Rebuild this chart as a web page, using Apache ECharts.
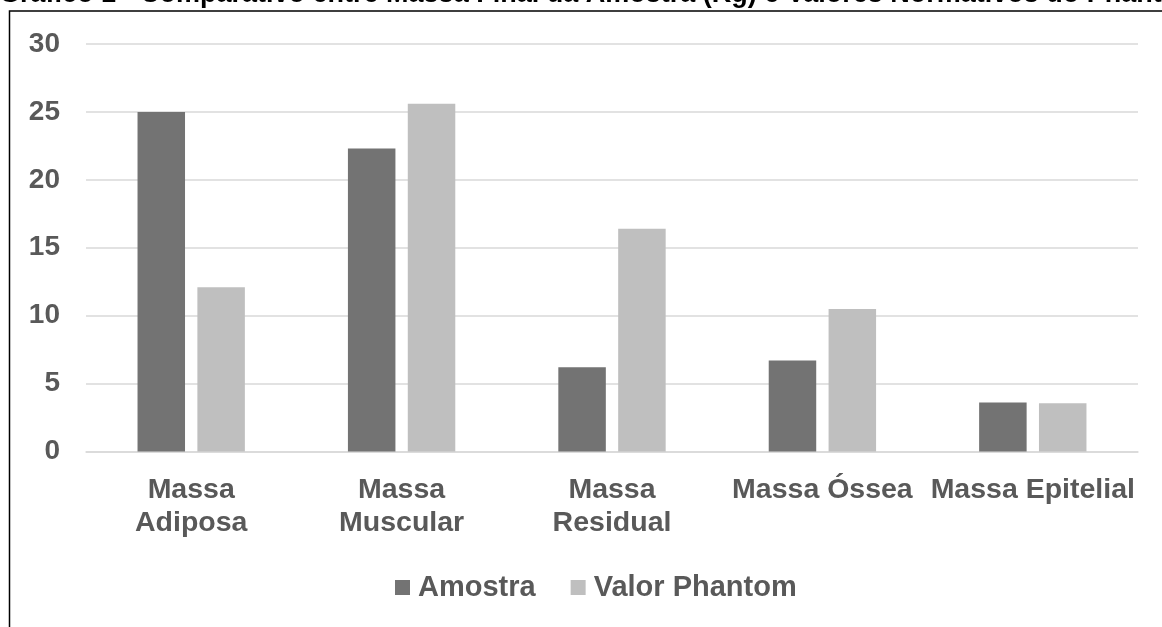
<!DOCTYPE html>
<html>
<head>
<meta charset="utf-8">
<script src="https://cdn.jsdelivr.net/npm/echarts@6/dist/echarts.min.js"></script>
<style>
  html, body { margin: 0; padding: 0; background: #fff; }
  #chart { width: 1162px; height: 627px; }
</style>
</head>
<body>
<div id="chart"></div>
<script>
// Final sample mass (kg) per tissue vs. the phantom's normative values
const titleText = 'Gráfico 1 - Comparativo entre Massa Final da Amostra (Kg) e Valores Normativos do Phantom';
const categories = ['Massa\nAdiposa', 'Massa\nMuscular', 'Massa\nResidual', 'Massa Óssea', 'Massa Epitelial'];
const seriesNames = ['Amostra', 'Valor Phantom'];
const amostra = [25.0, 22.3, 6.2, 6.7, 3.6];
const valorPhantom = [12.1, 25.6, 16.4, 10.5, 3.55];
const yTicks = { min: 0, max: 30, interval: 5 };

const FONT = 'Arial, "Liberation Sans", sans-serif';
const TEXT = '#595959';
const GRID = '#d9d9d9';

const chart = echarts.init(document.getElementById('chart'), null, { renderer: 'canvas' });

chart.setOption({
  backgroundColor: '#ffffff',
  animation: false,
  graphic: [
    {
      type: 'text',
      left: -1,
      top: -19,
      style: {
        text: titleText,
        font: 'bold 27px ' + FONT,
        fill: '#000000'
      },
      z: 10
    },
    {
      type: 'rect',
      shape: { x: 9.5, y: 11, width: 2000, height: 2000 },
      style: { fill: 'none', stroke: '#000000', lineWidth: 1.5 },
      z: 10
    }
  ],
  grid: { left: 86, right: 24, top: 44, bottom: 175.5, containLabel: false },
  legend: {
    data: seriesNames,
    left: 390,
    top: 568,
    itemWidth: 15,
    itemHeight: 15,
    itemGap: 35,
    icon: 'rect',
    textStyle: {
      fontFamily: FONT,
      fontSize: 29,
      fontWeight: 'bold',
      color: TEXT,
      lineHeight: 29,
      padding: [0, 0, 0, 3]
    }
  },
  xAxis: {
    type: 'category',
    data: categories,
    axisLine: { show: true, lineStyle: { color: GRID, width: 1.5 } },
    axisTick: { show: false },
    axisLabel: {
      interval: 0,
      margin: 22,
      fontFamily: FONT,
      fontSize: 28.5,
      fontWeight: 'bold',
      color: TEXT,
      lineHeight: 33
    }
  },
  yAxis: {
    type: 'value',
    min: yTicks.min,
    max: yTicks.max,
    interval: yTicks.interval,
    axisLine: { show: false },
    axisTick: { show: false },
    splitLine: { lineStyle: { color: GRID, width: 1.5 } },
    axisLabel: {
      margin: 26,
      fontFamily: FONT,
      fontSize: 28,
      fontWeight: 'bold',
      color: TEXT
    }
  },
  series: [
    {
      name: seriesNames[0],
      type: 'bar',
      data: amostra,
      barWidth: 47.5,
      barGap: '26%',
      itemStyle: { color: '#737373' }
    },
    {
      name: seriesNames[1],
      type: 'bar',
      data: valorPhantom,
      barWidth: 47.5,
      itemStyle: { color: '#bfbfbf' }
    }
  ]
});
</script>
</body>
</html>
